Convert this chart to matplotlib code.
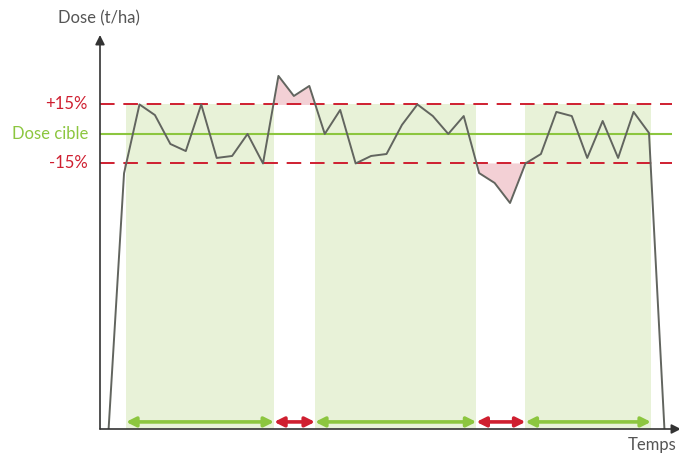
import matplotlib
matplotlib.use("Agg")
import matplotlib.pyplot as plt
import numpy as np

# ---- data ----
time_idx = list(range(37))
dose = [0, 13.0, 16.5, 15.96, 14.49, 14.13, 16.5, 13.78, 13.88, 15.0, 13.5,
        17.95, 16.93, 17.44, 15.0, 16.22, 13.5, 13.88, 13.98, 15.46, 16.5,
        15.91, 15.0, 15.91, 13.01, 12.51, 11.49, 13.5, 13.98, 16.12, 15.91,
        13.78, 15.66, 13.78, 16.12, 15.05, 0]
target = 15.0
upper = 16.5
lower = 13.5
ok_spans = [(1.13, 10.72), (13.37, 23.82), (27.0, 35.13)]
bad_spans = [(10.72, 13.37), (23.82, 27.0)]
labels_levels = ["+15%", "Dose cible", "-15%"]

W, H = 679, 453
fig = plt.figure(figsize=(W / 100, H / 100), dpi=100)
plt.rcParams['font.family'] = ['Lato', 'DejaVu Sans']

def fx(x):
    return x / W

def fy(y):
    return 1 - y / H

ax = fig.add_axes([fx(100), fy(429), (672 - 100) / W, (429 - 35) / H])
ax.set_xlim(-0.557, 36.49)
ax.set_ylim(0, 20.03)
ax.axis('off')

green = '#8cc63f'
red = '#cf1f30'
band_green = '#e8f2d8'
band_red = '#f3d0d5'
line_col = '#62655f'

for a, b in ok_spans:
    ax.fill_between([a, b], 0, upper, color=band_green, lw=0, zorder=0)

x = np.array(time_idx, dtype=float)
y = np.array(dose)
ax.fill_between(x, upper, y, where=y > upper, interpolate=True, color=band_red, lw=0, zorder=1)
ax.fill_between(x, lower, y, where=(y < lower) & (y > 5), interpolate=True, color=band_red, lw=0, zorder=1)

ax.axhline(target, color=green, lw=1.5, zorder=2)
ax.axhline(upper, color=red, lw=1.4, ls=(0, (7.5, 4.5)), zorder=2)
ax.axhline(lower, color=red, lw=1.4, ls=(0, (7.5, 4.5)), zorder=2)

ax.plot(x, y, color=line_col, lw=1.4, zorder=3)

arrow_y = 0.36
for a, b in ok_spans:
    ax.annotate('', xy=(b, arrow_y), xytext=(a, arrow_y),
                arrowprops=dict(arrowstyle='<|-|>', color=green, lw=2.6,
                                mutation_scale=14, shrinkA=0, shrinkB=0))
for a, b in bad_spans:
    ax.annotate('', xy=(b, arrow_y), xytext=(a, arrow_y),
                arrowprops=dict(arrowstyle='<|-|>', color=red, lw=2.6,
                                mutation_scale=14, shrinkA=0, shrinkB=0))

# axes arrows
axis_col = '#333333'
fig.add_artist(matplotlib.patches.FancyArrowPatch(
    (fx(100), fy(429)), (fx(100), fy(35)), transform=fig.transFigure,
    arrowstyle='-|>', mutation_scale=14, color=axis_col, lw=1.2, shrinkA=0, shrinkB=0))
fig.add_artist(matplotlib.patches.FancyArrowPatch(
    (fx(100), fy(429)), (fx(681), fy(429)), transform=fig.transFigure,
    arrowstyle='-|>', mutation_scale=14, color=axis_col, lw=1.2, shrinkA=0, shrinkB=0))

# level labels
fs = 12
ax.text(-0.557 - 0.78, upper, labels_levels[0], color=red, fontsize=fs, ha='right', va='center')
ax.text(-0.557 - 0.78, target, labels_levels[1], color=green, fontsize=fs, ha='right', va='center')
ax.text(-0.557 - 0.78, lower, labels_levels[2], color=red, fontsize=fs, ha='right', va='center')

fig.text(fx(58), fy(18), "Dose (t/ha)", color='#555555', fontsize=fs, ha='left', va='center')
fig.text(fx(677), fy(445), "Temps", color='#555555', fontsize=fs, ha='right', va='center')

fig.savefig('out.png', dpi=100)
